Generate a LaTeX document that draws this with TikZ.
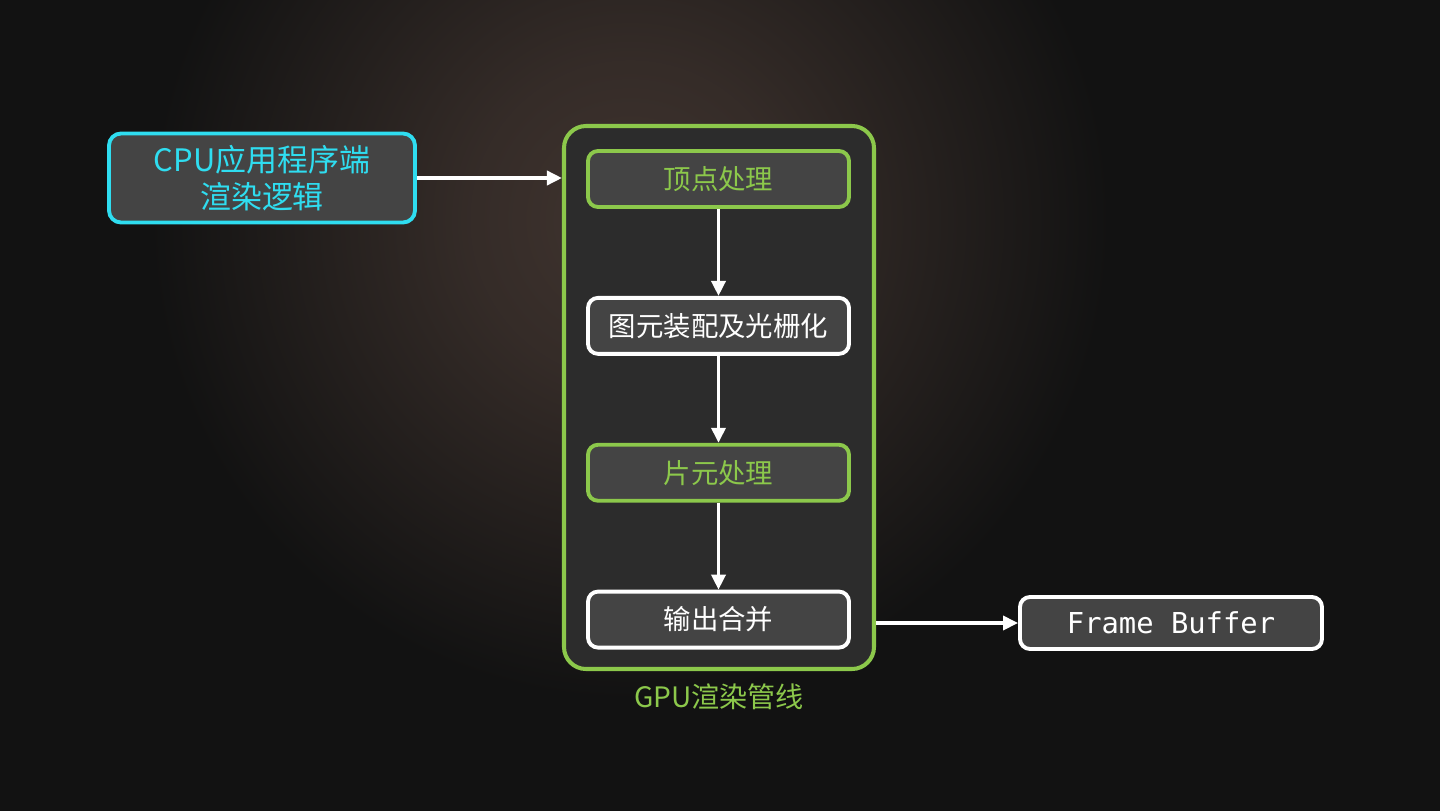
\documentclass[tikz,border=0pt]{standalone}
\usepackage{fontspec}
\usepackage{xcolor}
\usepackage{tikz}
\usetikzlibrary{arrows.meta,positioning}
\setmainfont{Noto Sans CJK SC}
\newfontfamily\codefont{DejaVu Sans Mono}
\definecolor{gpugreen}{HTML}{8CC84B}
\definecolor{cpucyan}{HTML}{2FDDF0}
\definecolor{boxfill}{HTML}{444444}
\definecolor{pipefill}{HTML}{2C2C2C}
\definecolor{bgdark}{HTML}{121212}
\definecolor{bgglow}{HTML}{40342F}
\pgfdeclareradialshading{bgshade}{\pgfpoint{0cm}{0cm}}{%
  color(0bp)=(bgglow); color(2bp)=(bgglow!75!bgdark);
  color(6bp)=(bgdark); color(50bp)=(bgdark)}

\begin{document}
\begin{tikzpicture}[>={Triangle[length=0.15cm,width=0.14cm]},
                    node distance=0.87cm,
                    every node/.style={font=\fontsize{7.8}{9}\selectfont},
                    stage/.style={draw=white, fill=boxfill, text=white,
                      line width=1.1pt, rounded corners=0.1cm,
                      minimum width=2.61cm, minimum height=0.56cm},
                    greenstage/.style={stage, draw=gpugreen, text=gpugreen},
                    flow/.style={->, draw=white, line width=1pt}]
\useasboundingbox (0,0) rectangle (14.4,8.1);
\begin{scope}
  \clip (0,0) rectangle (14.4,8.1);
  \shade[shading=bgshade] (6.3,5.9) circle (20);
\end{scope}
% GPU pipeline container
\node[draw=gpugreen, fill=pipefill, line width=1.15pt, rounded corners=0.22cm,
      minimum width=3.10cm, minimum height=5.43cm] (pipe) at (7.19,4.125) {};
\node[below=0pt of pipe, text=gpugreen, font=\fontsize{8}{9}\selectfont] (pipelabel) {GPU渲染管线};
\node[greenstage] at (7.185,6.31) (vtx)  {顶点处理};
\node[stage, below=of vtx]        (prim) {图元装配及光栅化};
\node[greenstage, below=of prim]  (frag) {片元处理};
\node[stage, below=of frag]       (merge) {输出合并};
\draw[flow] (vtx)  -- (prim);
\draw[flow] (prim) -- (frag);
\draw[flow] (frag) -- (merge);
% CPU side and frame buffer
\node[stage, draw=cpucyan, text=cpucyan, align=center,
      minimum width=3.06cm, minimum height=0.84cm, rounded corners=0.12cm,
      font=\fontsize{8.8}{10.5}\selectfont] at (2.62,6.32) (cpu)
  {CPU应用程序端\\渲染逻辑};
\node[stage, minimum width=3.02cm, minimum height=0.52cm,
      font=\fontsize{8.2}{10}\codefont] at (11.71,1.87) (fb) {Frame Buffer};
\draw[flow] (cpu.east) -- (cpu.east -| pipe.west);
\draw[flow] (pipe.east |- fb.west) -- (fb.west);
\end{tikzpicture}
\end{document}
